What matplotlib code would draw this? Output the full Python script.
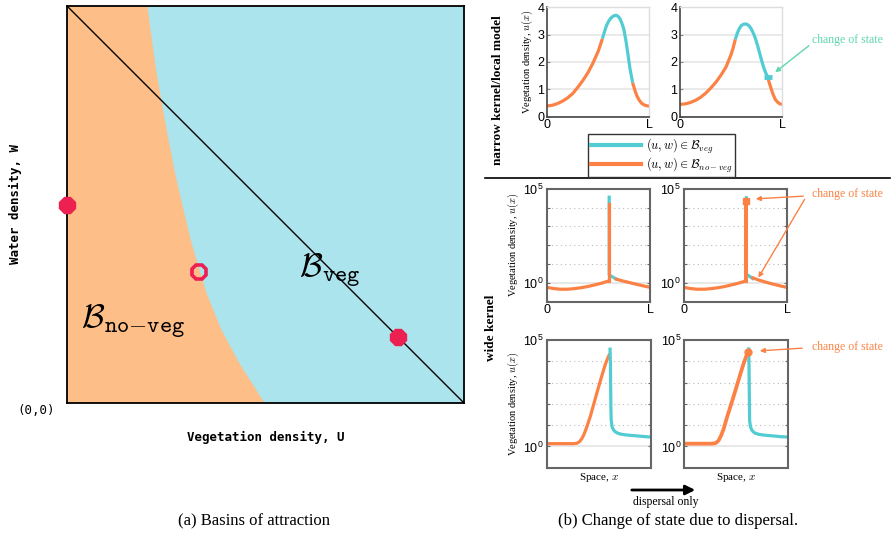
import matplotlib
matplotlib.use('Agg')
import matplotlib.pyplot as plt
from matplotlib.lines import Line2D
from matplotlib.ticker import FixedLocator, FixedFormatter, NullLocator
from matplotlib.font_manager import FontProperties
from matplotlib.patches import FancyArrowPatch

plt.rcParams['font.family'] = ['Liberation Sans', 'DejaVu Sans']

# ---------------- data: (a) basins of attraction ----------------
boundary_w = [1.0, 0.928, 0.841, 0.754, 0.667, 0.580, 0.493, 0.406, 0.331, 0.276, 0.189, 0.103, 0.0]
boundary_u = [0.201, 0.211, 0.223, 0.238, 0.254, 0.271, 0.291, 0.312, 0.334, 0.351, 0.386, 0.432, 0.497]
diag_u = [0.0, 1.0]
diag_w = [1.0, 0.0]
stable_u = [0.0, 0.833]
stable_w = [0.499, 0.167]
saddle_u = [0.333]
saddle_w = [0.331]

# ---------------- data: (b) narrow kernel, left ----------------
A_no1_x = [0, 0.05, 0.10, 0.15, 0.20, 0.25, 0.30, 0.35, 0.40, 0.45, 0.50, 0.54]
A_no1_u = [0.39, 0.42, 0.48, 0.57, 0.69, 0.85, 1.08, 1.33, 1.62, 1.98, 2.40, 2.85]
A_veg_x = [0.54, 0.56, 0.58, 0.60, 0.62, 0.64, 0.66, 0.673, 0.69, 0.71, 0.73, 0.75, 0.77, 0.79, 0.81, 0.837]
A_veg_u = [2.85, 3.10, 3.33, 3.48, 3.59, 3.66, 3.70, 3.71, 3.68, 3.60, 3.43, 3.20, 2.80, 2.30, 1.77, 1.24]
A_no2_x = [0.837, 0.86, 0.88, 0.90, 0.925, 0.95, 0.975, 1.0]
A_no2_u = [1.24, 0.95, 0.75, 0.61, 0.49, 0.43, 0.40, 0.39]

# narrow kernel, right
B_no1_x = [0, 0.05, 0.10, 0.15, 0.20, 0.25, 0.30, 0.35, 0.40, 0.45, 0.50, 0.52, 0.541]
B_no1_u = [0.45, 0.47, 0.52, 0.60, 0.71, 0.86, 1.05, 1.26, 1.52, 1.82, 2.28, 2.52, 2.83]
B_veg_x = [0.541, 0.56, 0.58, 0.60, 0.62, 0.639, 0.66, 0.68, 0.70, 0.72, 0.74, 0.76, 0.78, 0.80, 0.82, 0.84, 0.859]
B_veg_u = [2.83, 3.05, 3.22, 3.33, 3.38, 3.39, 3.37, 3.31, 3.19, 3.04, 2.84, 2.60, 2.32, 2.05, 1.80, 1.60, 1.46]
B_no2_x = [0.859, 0.875, 0.892, 0.91, 0.934, 0.96, 0.98, 1.0]
B_no2_u = [1.46, 1.24, 1.04, 0.84, 0.63, 0.52, 0.47, 0.45]
B_switch_x = [0.859]
B_switch_u = [1.46]

# wide kernel, middle-left
C_no1_x = [0, 0.065, 0.13, 0.20, 0.26, 0.33, 0.39, 0.45, 0.52, 0.597]
C_no1_u = [0.58, 0.50, 0.46, 0.46, 0.49, 0.55, 0.63, 0.75, 0.93, 1.26]
C_spike_x = [0.597, 0.597]
C_spike_u = [1.26, 15500]
C_veg_x = [0.603, 0.603, 0.675]
C_veg_u = [35500, 2.63, 1.55]
C_no2_x = [0.672, 0.72, 0.78, 0.84, 0.90, 0.95, 1.0]
C_no2_u = [1.58, 1.32, 1.10, 0.91, 0.76, 0.66, 0.58]

# wide kernel, middle-right
D_no1_x = [0, 0.065, 0.13, 0.20, 0.26, 0.33, 0.39, 0.45, 0.52, 0.603]
D_no1_u = [0.58, 0.50, 0.46, 0.46, 0.49, 0.55, 0.63, 0.75, 0.93, 1.26]
D_veg_x = [0.606, 0.606, 0.61, 0.668]
D_veg_u = [33000, 2.9, 2.8, 1.7]
D_spike_x = [0.603, 0.603]
D_spike_u = [1.26, 23400]
D_no2_x = [0.668, 0.72, 0.78, 0.84, 0.90, 0.95, 1.0]
D_no2_u = [1.86, 1.45, 1.15, 0.93, 0.77, 0.66, 0.58]

# wide kernel, bottom-left
E_no_x = [0, 0.1, 0.2, 0.256, 0.29, 0.315, 0.337, 0.36, 0.385, 0.42, 0.449, 0.48, 0.513, 0.54, 0.561, 0.58, 0.60]
E_no_u = [1.35, 1.35, 1.35, 1.35, 1.41, 1.66, 2.29, 3.8, 8.1, 26.3, 85, 295, 1070, 3020, 6460, 11750, 19500]
E_veg_x = [0.609, 0.613, 0.615, 0.617, 0.62, 0.629, 0.645, 0.661, 0.685, 0.71, 0.76, 0.806, 0.9, 1.0]
E_veg_u = [37200, 6300, 630, 79, 17.8, 8.1, 5.75, 4.79, 4.17, 3.80, 3.47, 3.31, 3.02, 2.75]

# wide kernel, bottom-right
F_no_x = [0, 0.1, 0.2, 0.26, 0.29, 0.31, 0.332, 0.355, 0.381, 0.41, 0.445, 0.48, 0.51, 0.54, 0.574, 0.60, 0.616]
F_no_u = [1.35, 1.35, 1.35, 1.35, 1.38, 1.51, 1.91, 3.16, 6.76, 20.9, 72.4, 251, 759, 2340, 7940, 17800, 26300]
F_veg_x = [0.623, 0.626, 0.628, 0.63, 0.632, 0.64, 0.655, 0.675, 0.70, 0.719, 0.77, 0.865, 0.93, 1.0]
F_veg_u = [38000, 6310, 631, 79.4, 15.8, 8.32, 5.62, 4.47, 3.98, 3.72, 3.39, 3.09, 2.88, 2.75]

x_tick_labels = ['0', 'L']
lin_ticks = [0, 1, 2, 3, 4]
log_ticks = [1, 10, 100, 1000, 1e4, 1e5]
log_labels = [r'$\mathdefault{10^{0}}$', '', '', '', '', r'$\mathdefault{10^{5}}$']

# ---------------- styles ----------------
C_VEG = '#52CCD3'
C_NO = '#FB8244'
FILL_NO = '#FDBE88'
FILL_VEG = '#ABE4EC'
RED = '#EC2152'
MINT = '#5FD6AE'
LW = 2.3
SERIF = 'Liberation Serif'

W, H = 896, 539
fig = plt.figure(figsize=(8.96, 5.39), dpi=100)


def fx(px):
    return px / W


def fy(py):
    return 1 - py / H


def rect(l, t, r, b):
    return [fx(l), fy(b), (r - l) / W, (b - t) / H]


def fig_arrow(p0, p1, color, lw=1, scale=7):
    fig.add_artist(FancyArrowPatch((fx(p0[0]), fy(p0[1])), (fx(p1[0]), fy(p1[1])),
                                   transform=fig.transFigure, arrowstyle='-|>',
                                   mutation_scale=scale, color=color, lw=lw))


# ---------------- (a) ----------------
ax0 = fig.add_axes(rect(67, 6, 464, 403))
ax0.set_xlim(0, 1)
ax0.set_ylim(0, 1)
ax0.set_facecolor(FILL_NO)
ax0.fill_betweenx(boundary_w, boundary_u, 1, color=FILL_VEG, lw=0)
ax0.plot(diag_u, diag_w, color='black', lw=1)
ax0.plot(stable_u, stable_w, ls='none', marker='8', ms=12, color=RED, clip_on=False, zorder=5)
ax0.plot(saddle_u, saddle_w, ls='none', marker='8', ms=11.5, mfc='none', mec=RED, mew=2.6, zorder=5)
ax0.set_xticks([])
ax0.set_yticks([])
for s in ax0.spines.values():
    s.set_color('black')
    s.set_linewidth(1.3)
ax0.text(0.585, 0.318, r'$\mathcal{B}_{\mathtt{veg}}$', fontsize=24, math_fontfamily='cm', va='baseline')
ax0.text(0.036, 0.19, r'$\mathcal{B}_{\mathtt{no}{-}\mathtt{veg}}$', fontsize=24, math_fontfamily='cm',
         va='baseline')

mono = dict(family='DejaVu Sans Mono', weight='bold', fontsize=9)
fig.text(fx(265.5), fy(437), 'Vegetation density, U', ha='center', va='center', **mono)
fig.text(fx(15), fy(204), 'Water density, W', ha='center', va='center', rotation=90, **mono)
fig.text(fx(36), fy(410), '(0,0)', ha='center', va='center', family='DejaVu Sans Mono', fontsize=9)
fig.text(fx(254), fy(521), '(a) Basins of attraction', ha='center', va='center', family=SERIF, fontsize=12)

# ---------------- (b) ----------------
ax1 = fig.add_axes(rect(547.3, 7.3, 649.3, 116.7))
ax2 = fig.add_axes(rect(680.3, 7.3, 782, 116.7))
ax3 = fig.add_axes(rect(546.7, 188.7, 650.3, 301.7))
ax4 = fig.add_axes(rect(683.7, 188.7, 787, 301.7))
ax5 = fig.add_axes(rect(546.7, 340, 650.7, 467.7))
ax6 = fig.add_axes(rect(684.3, 340, 787.7, 467.7))

ylab = dict(family=SERIF, fontsize=7.5, math_fontfamily='cm')

for ax in (ax1, ax2):
    ax.set_xlim(0, 1)
    ax.set_ylim(0, 4)
    ax.set_yticks(lin_ticks)
    ax.set_xticks([0, 1])
    ax.set_xticklabels(x_tick_labels)
    ax.yaxis.grid(True, color='#e4e4e4', lw=1.1)
    ax.set_axisbelow(True)
    ax.tick_params(direction='in', length=2.5, labelsize=9, color='#888', pad=2)
    for k in ('left', 'bottom'):
        ax.spines[k].set_color('#444')
        ax.spines[k].set_linewidth(1.2)
    for k in ('top', 'right'):
        ax.spines[k].set_color('#dddddd')
        ax.spines[k].set_linewidth(1.0)

for ax in (ax3, ax4, ax5, ax6):
    ax.set_xlim(0, 1)
    ax.set_yscale('log')
    ax.set_ylim(0.1, 1e5)
    ax.yaxis.set_major_locator(FixedLocator(log_ticks))
    ax.yaxis.set_major_formatter(FixedFormatter(log_labels))
    ax.yaxis.set_minor_locator(NullLocator())
    ax.axhline(1, color='#e2e2e2', lw=1.1, zorder=0)
    for v in log_ticks[1:5]:
        ax.axhline(v, color='#bbbbbb', lw=0.8, ls=(0, (1, 3)), zorder=0)
    ax.tick_params(direction='in', length=2.5, labelsize=9, color='#666', right=True, pad=2)
    for s in ax.spines.values():
        s.set_color('#666')
        s.set_linewidth(1.5)

for ax in (ax3, ax4):
    ax.set_xticks([0, 1])
    ax.set_xticklabels(x_tick_labels)
for ax in (ax5, ax6):
    ax.set_xticks([])

for ax in (ax1, ax3, ax5):
    ax.set_ylabel('Vegetation density, $u(x)$', labelpad=2, **ylab)

# curves
ax1.plot(A_no1_x, A_no1_u, color=C_NO, lw=LW, solid_capstyle='butt')
ax1.plot(A_veg_x, A_veg_u, color=C_VEG, lw=LW, solid_capstyle='butt')
ax1.plot(A_no2_x, A_no2_u, color=C_NO, lw=LW, solid_capstyle='butt')

ax2.plot(B_no1_x, B_no1_u, color=C_NO, lw=LW, solid_capstyle='butt')
ax2.plot(B_veg_x, B_veg_u, color=C_VEG, lw=LW, solid_capstyle='butt')
ax2.plot(B_no2_x, B_no2_u, color=C_NO, lw=LW, solid_capstyle='butt')
ax2.plot(B_switch_x, B_switch_u, ls='none', marker='_', ms=6, mew=3.5, color=C_VEG)

ax3.plot(C_no1_x, C_no1_u, color=C_NO, lw=LW)
ax3.plot(C_veg_x, C_veg_u, color=C_VEG, lw=LW)
ax3.plot(C_spike_x, C_spike_u, color=C_NO, lw=LW)
ax3.plot(C_no2_x, C_no2_u, color=C_NO, lw=LW)

ax4.plot(D_no1_x, D_no1_u, color=C_NO, lw=LW)
ax4.plot(D_veg_x, D_veg_u, color=C_VEG, lw=LW)
ax4.plot(D_spike_x, D_spike_u, color=C_NO, lw=LW + 0.6)
ax4.plot(D_spike_x[-1:], D_spike_u[-1:], ls='none', marker='s', ms=4.5, color=C_NO)
ax4.plot(D_no2_x, D_no2_u, color=C_NO, lw=LW)

ax5.plot(E_no_x, E_no_u, color=C_NO, lw=LW)
ax5.plot(E_veg_x, E_veg_u, color=C_VEG, lw=LW)

ax6.plot(F_veg_x, F_veg_u, color=C_VEG, lw=LW)
ax6.plot(F_no_x, F_no_u, color=C_NO, lw=LW + 0.4)
ax6.plot(F_no_x[-1:], F_no_u[-1:], ls='none', marker='o', ms=5, color=C_NO)

# legend
leg_handles = [Line2D([], [], color=C_VEG, lw=3), Line2D([], [], color=C_NO, lw=3)]
leg_labels = [r'$(u,w) \in \mathcal{B}_{veg}$', r'$(u,w) \in \mathcal{B}_{no-veg}$']
leg = fig.legend(leg_handles, leg_labels, loc='upper left', bbox_to_anchor=(fx(588), fy(134)),
                 bbox_transform=fig.transFigure, borderaxespad=0, fancybox=False, framealpha=1,
                 edgecolor='#333', borderpad=0.2, handlelength=4.0, labelspacing=0.0, handletextpad=0.4,
                 prop=FontProperties(family=SERIF, size=9, math_fontfamily='cm'))
leg.get_frame().set_linewidth(1.0)

# annotations
ann = dict(family=SERIF, fontsize=8.5, ha='left', va='center')
fig.text(fx(812), fy(40), 'change of state', color=MINT, **ann)
fig_arrow((811, 44), (773, 74), MINT)

fig.text(fx(812), fy(194), 'change of state', color=C_NO, **ann)
fig_arrow((806, 196), (753, 199), C_NO)
fig_arrow((806, 197), (757, 280), C_NO)

fig.text(fx(812), fy(347), 'change of state', color=C_NO, **ann)
fig_arrow((805, 348), (757, 351), C_NO)

# row labels and separators
rowlab = dict(family=SERIF, weight='bold', fontsize=9.5, rotation=90, ha='center', va='center')
fig.text(fx(498), fy(90), 'narrow kernel/local model', **rowlab)
fig.text(fx(491), fy(328), 'wide kernel', **rowlab)
fig.add_artist(Line2D([fx(485), fx(890)], [fy(178), fy(178)], transform=fig.transFigure, color='black', lw=1.2))

# x labels
xl = dict(family=SERIF, fontsize=8, math_fontfamily='cm', ha='center', va='center')
fig.text(fx(598.7), fy(477), 'Space, $x$', **xl)
fig.text(fx(736), fy(477), 'Space, $x$', **xl)

# dispersal arrow
fig_arrow((629, 490), (698, 490), 'black', lw=2, scale=14)
fig.text(fx(666), fy(502), 'dispersal only', family=SERIF, fontsize=8.5, ha='center', va='center')
fig.text(fx(678), fy(521), '(b) Change of state due to dispersal.', family=SERIF, fontsize=12,
         ha='center', va='center')

fig.savefig('out.png', dpi=100)
